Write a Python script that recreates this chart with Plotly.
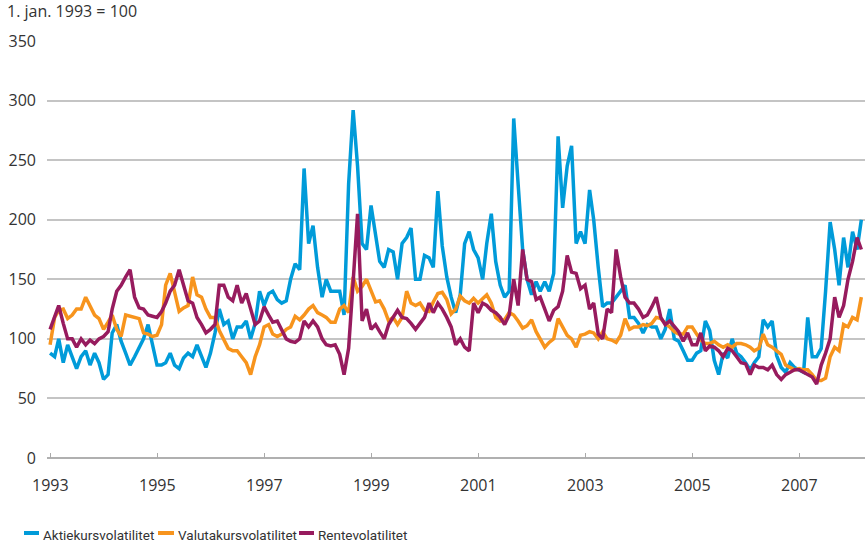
import pandas as pd
import plotly.graph_objects as go

start_month = "1993-01-01"
n_months = 183  # Jan 1993 .. Mar 2008

aktie = [
    88, 85, 100, 80, 95, 85, 75, 85, 90, 78, 88, 80,
    66, 70, 105, 112, 98, 88, 78, 85, 92, 100, 112, 95,
    78, 78, 80, 88, 78, 75, 84, 88, 85, 95, 85, 76,
    88, 105, 125, 112, 115, 100, 110, 110, 115, 100, 113, 140,
    128, 138, 140, 133, 130, 132, 150, 163, 158, 243, 180, 195,
    160, 135, 150, 140, 140, 140, 120, 230, 292, 245, 180, 175,
    212, 185, 165, 160, 175, 173, 150, 180, 185, 193, 150, 150,
    170, 168, 160, 224, 178, 152, 135, 122, 137, 180, 190, 175,
    168, 150, 180, 205, 165, 145, 135, 140, 285, 230, 175, 150,
    137, 148, 140, 148, 140, 155, 270, 210, 245, 262, 180, 190,
    180, 225, 200, 160, 127, 130, 130, 135, 140, 145, 118, 118,
    113, 105, 112, 110, 110, 100, 108, 125, 100, 98, 90, 82,
    82, 88, 90, 115, 107, 82, 70, 88, 84, 100, 88, 85,
    80, 74, 80, 85, 116, 110, 115, 86, 76, 72, 80, 76,
    74, 72, 118, 85, 85, 92, 140, 198, 175, 145, 185, 160,
    190, 175, 200,
]

valuta = [
    95, 118, 124, 125, 117, 120, 125, 125, 135, 128, 120, 117,
    108, 114, 120, 108, 102, 120, 119, 118, 117, 105, 104, 102,
    103, 112, 145, 155, 138, 123, 126, 128, 152, 137, 135, 125,
    118, 118, 107, 100, 92, 90, 90, 85, 80, 70, 85, 95,
    110, 112, 104, 102, 104, 108, 110, 119, 116, 120, 125, 128,
    122, 120, 118, 114, 114, 125, 128, 122, 152, 140, 144, 150,
    140, 131, 132, 125, 115, 118, 112, 118, 140, 130, 128, 130,
    124, 123, 131, 138, 139, 133, 121, 125, 136, 132, 130, 134,
    130, 134, 137, 130, 118, 115, 116, 122, 120, 115, 109, 111,
    116, 106, 100, 93, 97, 100, 117, 110, 103, 100, 93, 103,
    104, 106, 105, 100, 106, 100, 99, 97, 103, 117, 108, 110,
    110, 112, 111, 113, 118, 117, 113, 110, 106, 104, 104, 110,
    110, 104, 99, 96, 96, 98, 95, 93, 95, 93, 96, 96,
    95, 93, 90, 92, 104, 95, 93, 90, 87, 78, 76, 74,
    75, 74, 74, 70, 65, 65, 67, 85, 93, 90, 112, 110,
    118, 116, 135,
]

rente = [
    108, 118, 128, 113, 100, 100, 93, 100, 95, 99, 96, 100,
    102, 106, 125, 140, 145, 152, 158, 135, 126, 125, 120, 119,
    118, 123, 130, 140, 145, 158, 145, 132, 130, 118, 112, 105,
    108, 112, 145, 145, 135, 132, 145, 130, 138, 124, 112, 115,
    127, 120, 114, 115, 108, 100, 98, 97, 100, 115, 110, 115,
    110, 100, 95, 94, 95, 87, 70, 92, 148, 205, 115, 125,
    108, 112, 106, 100, 112, 118, 124, 118, 117, 113, 108, 113,
    118, 130, 122, 130, 125, 118, 110, 95, 100, 93, 90, 130,
    122, 130, 128, 124, 122, 118, 112, 120, 150, 128, 175, 150,
    148, 133, 135, 125, 115, 124, 127, 140, 170, 156, 155, 142,
    145, 125, 130, 104, 100, 125, 122, 175, 152, 135, 130, 130,
    125, 118, 120, 127, 135, 118, 112, 115, 110, 106, 98, 105,
    95, 95, 105, 90, 94, 93, 90, 85, 92, 90, 85, 80,
    79, 70, 78, 76, 76, 74, 78, 70, 66, 70, 72, 74,
    74, 72, 70, 68, 62, 78, 88, 100, 135, 118, 128, 150,
    165, 185, 175,
]

series_names = ["Aktiekursvolatilitet", "Valutakursvolatilitet", "Rentevolatilitet"]
series_colors = ["#009bd9", "#f7941d", "#971b5e"]
tick_years = ["1993", "1995", "1997", "1999", "2001", "2003", "2005", "2007"]
y_ticks = [0, 50, 100, 150, 200, 250, 300, 350]

dates = pd.date_range(start_month, periods=n_months, freq="MS")
x_range = ["1992-12-11", "2008-03-26"]
x_tickvals = [f"{y}-01-01" for y in tick_years]

W, H = 865, 547
ML, MR, MT, MB = 47, 0, 41, 89
PW, PH = W - ML - MR, H - MT - MB


def px_to_paper_x(px):
    return (px - ML) / PW


def px_to_paper_y(py):
    return (H - MB - py) / PH


FONT = "Open Sans, Liberation Sans, sans-serif"
LEG_FONT = "Roboto, Open Sans, sans-serif"
TEXT_COLOR = "#333333"

fig = go.Figure()
for name, vals, col in zip(series_names, [aktie, valuta, rente], series_colors):
    fig.add_trace(go.Scatter(x=dates, y=vals, mode="lines", name=name,
                             line=dict(color=col, width=3.5), showlegend=False))

shapes = []
annotations = []

# x-axis year labels, placed at the tick dates, below the inside tick marks
for tv, lab in zip(x_tickvals, tick_years):
    annotations.append(dict(text=lab, xref="x", yref="paper", x=tv,
                            y=px_to_paper_y(485), xanchor="center", yanchor="middle",
                            showarrow=False,
                            font=dict(family=FONT, size=16, color=TEXT_COLOR)))

# Legend drawn as key lines + labels under the plot (as in the reference)
legend_key_px = [(24, 39), (158, 174), (299, 314)]
legend_text_px = [41, 176, 316]
legend_key_y_px = 533
legend_text_y_px = 535
for (x0, x1), tx, name, col in zip(legend_key_px, legend_text_px, series_names, series_colors):
    shapes.append(dict(type="line", xref="paper", yref="paper",
                       x0=px_to_paper_x(x0), x1=px_to_paper_x(x1),
                       y0=px_to_paper_y(legend_key_y_px), y1=px_to_paper_y(legend_key_y_px),
                       line=dict(color=col, width=4)))
    annotations.append(dict(text=name, xref="paper", yref="paper",
                            x=px_to_paper_x(tx), y=px_to_paper_y(legend_text_y_px),
                            xanchor="left", yanchor="middle", showarrow=False,
                            font=dict(family=LEG_FONT, size=13.5, color=TEXT_COLOR)))

fig.update_layout(
    width=W, height=H,
    margin=dict(l=ML, r=MR, t=MT, b=MB),
    paper_bgcolor="white", plot_bgcolor="white",
    font=dict(family=FONT, size=16, color=TEXT_COLOR),
    title=dict(text="1. jan. 1993 = 100", x=7 / W, xanchor="left",
               xref="container", y=1 - 11 / H, yanchor="middle",
               font=dict(family=FONT, size=16, color=TEXT_COLOR)),
    showlegend=False,
    shapes=shapes,
    annotations=annotations,
    xaxis=dict(
        type="date",
        range=x_range,
        tickvals=x_tickvals,
        ticks="inside", ticklen=5, tickcolor="#aaaaaa", tickwidth=1,
        showticklabels=False,
        showgrid=False, showline=False, zeroline=False,
    ),
    yaxis=dict(
        range=[0, 350], tickvals=y_ticks,
        showgrid=True, gridcolor="#c4c4c4", gridwidth=1.5,
        zeroline=True, zerolinecolor="#b0b0b0", zerolinewidth=2,
        ticks="", showline=False, ticklabelstandoff=10,
        tickfont=dict(size=16),
    ),
)

fig.write_html("out.html", config={"displayModeBar": False},
               post_script="document.body.style.margin='0px';")
